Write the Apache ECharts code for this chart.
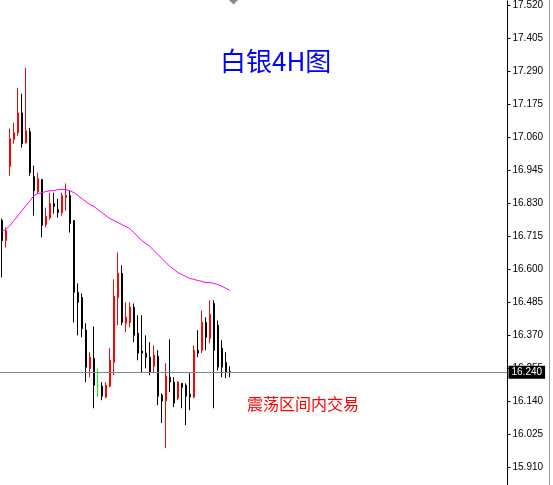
<!DOCTYPE html>
<html>
<head>
<meta charset="utf-8">
<script src="https://cdn.jsdelivr.net/npm/echarts@6/dist/echarts.min.js"></script>
<style>html,body{margin:0;padding:0;background:#fff;}#c{width:553px;height:485px;}</style>
</head>
<body>
<div id="c"></div>
<script>
// Silver 4H candles
const opens  = [16.769,16.699,16.957,17.051,17.075,17.144,17.040,17.078,16.922,16.870,16.912,16.755,16.779,16.828,16.807,16.797,16.849,16.856,16.769,16.519,16.501,16.387,16.254,16.289,16.195,16.192,16.154,16.192,16.275,16.501,16.585,16.411,16.414,16.467,16.376,16.314,16.307,16.293,16.261,16.296,16.161,16.140,16.223,16.206,16.150,16.202,16.195,16.164,16.154,16.317,16.317,16.414,16.359,16.480,16.404,16.324,16.275,16.243];
const closes = [16.699,16.734,17.054,17.075,17.144,17.037,17.082,16.936,16.873,16.915,16.752,16.783,16.828,16.818,16.797,16.856,16.856,16.759,16.519,16.484,16.393,16.258,16.293,16.195,16.195,16.157,16.195,16.282,16.505,16.585,16.414,16.432,16.467,16.369,16.307,16.307,16.293,16.240,16.300,16.157,16.140,16.227,16.206,16.133,16.206,16.188,16.157,16.154,16.317,16.307,16.414,16.362,16.442,16.317,16.258,16.258,16.240,16.240];
const lows   = [16.571,16.675,16.925,17.037,17.064,17.023,17.037,16.925,16.786,16.863,16.710,16.745,16.772,16.793,16.779,16.786,16.804,16.727,16.414,16.369,16.362,16.206,16.223,16.115,16.154,16.143,16.150,16.188,16.230,16.404,16.404,16.380,16.397,16.345,16.282,16.240,16.254,16.230,16.240,16.126,16.063,15.976,16.171,16.119,16.143,16.115,16.056,16.108,16.150,16.293,16.307,16.317,16.341,16.115,16.247,16.223,16.220,16.223];
const highs  = [16.776,16.745,17.089,17.110,17.231,17.211,17.301,17.092,16.960,16.936,16.912,16.814,16.866,16.866,16.845,16.866,16.898,16.873,16.769,16.550,16.515,16.411,16.310,16.400,16.254,16.206,16.206,16.324,16.564,16.658,16.613,16.484,16.484,16.480,16.439,16.439,16.369,16.345,16.334,16.317,16.167,16.272,16.355,16.223,16.209,16.202,16.202,16.237,16.334,16.387,16.456,16.432,16.491,16.491,16.421,16.352,16.310,16.261];
// Moving average (magenta)
const maValues = [16.731,16.738,16.752,16.769,16.786,16.804,16.821,16.838,16.856,16.863,16.866,16.870,16.873,16.873,16.877,16.877,16.877,16.873,16.866,16.856,16.845,16.835,16.825,16.818,16.807,16.797,16.786,16.776,16.769,16.762,16.755,16.748,16.741,16.727,16.713,16.699,16.689,16.679,16.665,16.651,16.637,16.623,16.609,16.599,16.588,16.581,16.574,16.567,16.564,16.560,16.557,16.553,16.553,16.550,16.546,16.540,16.533,16.526];
const tickLabels = [15.910,16.025,16.140,16.255,16.370,16.485,16.600,16.715,16.830,16.945,17.060,17.175,17.290,17.405,17.520];
const lastPrice = 16.240;
const titleText = '白银4H图';
const noteText = '震荡区间内交易';
const slotCount = 127;

const categories = Array.from({length: slotCount}, (_, i) => String(i));
const candleData = opens.map((o, i) => [o, closes[i], lows[i], highs[i]]);

const chart = echarts.init(document.getElementById('c'), null, {renderer: 'canvas'});
chart.setOption({
  animation: false,
  backgroundColor: '#ffffff',
  grid: {left: -0.5, width: 508, top: 0, bottom: 0, containLabel: false},
  xAxis: {type: 'category', data: categories, show: false, boundaryGap: true},
  yAxis: {
    type: 'value', position: 'right', min: 15.8475, max: 17.534, scale: true,
    axisLine: {show: true, lineStyle: {color: '#000', width: 1}},
    axisTick: {show: true, inside: false, length: 3, customValues: tickLabels, lineStyle: {color: '#000'}},
    axisLabel: {customValues: tickLabels, formatter: v => v.toFixed(3), fontSize: 10,
      fontFamily: 'Liberation Sans', color: '#000', margin: 5},
    splitLine: {show: false}
  },
  series: [
    {
      type: 'candlestick', data: candleData, barWidth: 2,
      itemStyle: {color: '#ff0000', color0: '#000000', borderColor: '#ff0000', borderColor0: '#000000',
        borderColorDoji: '#00ff00', borderWidth: 1},
      markLine: {
        symbol: 'none', silent: true, animation: false,
        lineStyle: {color: '#778899', width: 1, type: 'solid'},
        label: {show: true, position: 'end', distance: 1, formatter: lastPrice.toFixed(3),
          backgroundColor: '#000', color: '#fff', fontSize: 10, fontFamily: 'Liberation Sans',
          padding: [2, 3, 1, 3]},
        data: [{yAxis: lastPrice}]
      }
    },
    {
      type: 'line', data: maValues, symbol: 'none', smooth: false,
      lineStyle: {color: '#ff00ff', width: 1}, z: 3
    }
  ],
  graphic: [
    {type: 'text', left: 276 - 56, top: 48, style: {text: titleText, fill: '#0000ff',
      font: '26px "Noto Sans CJK SC", sans-serif'}},
    {type: 'text', left: 247, top: 396, style: {text: noteText, fill: '#ff0000',
      font: '16px "Noto Sans CJK SC", sans-serif'}},
    {type: 'polygon', shape: {points: [[229, 0], [238, 0], [233.5, 4.5]]}, style: {fill: '#808a96'}},
    {type: 'rect', shape: {x: 549, y: 0, width: 1, height: 485}, style: {fill: '#9a9a9a'}}
  ]
});
</script>
</body>
</html>
